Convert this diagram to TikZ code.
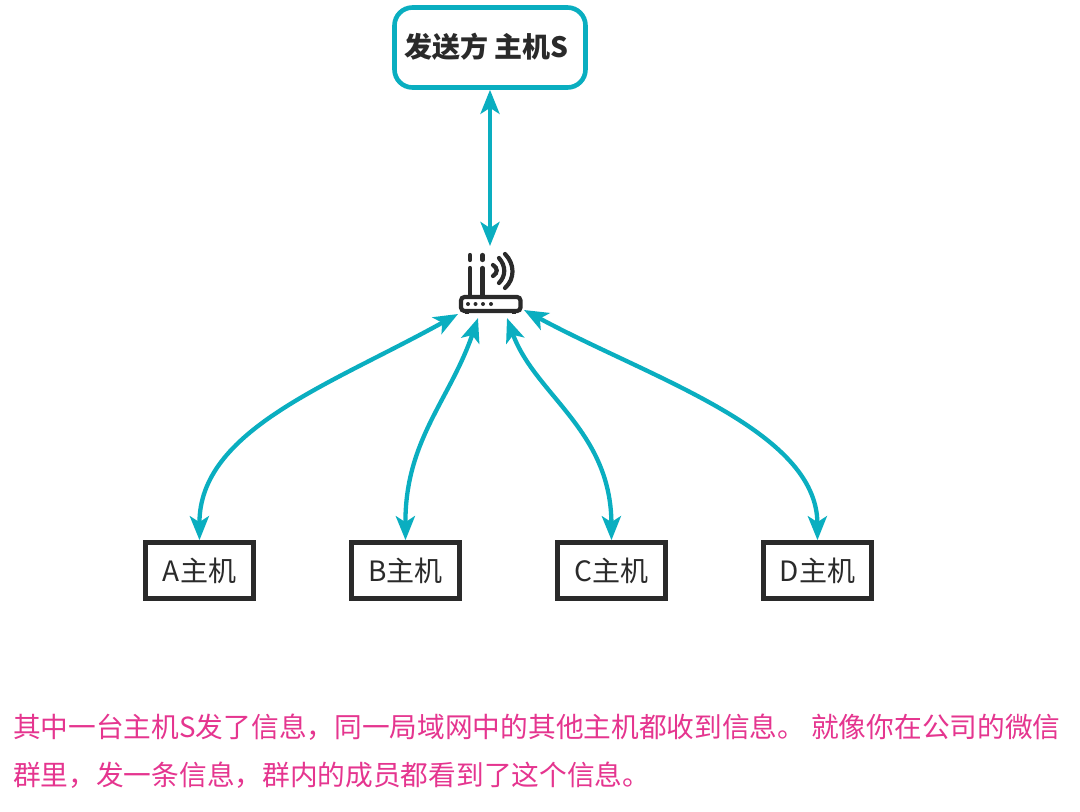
\documentclass[tikz,border=0pt]{standalone}
\usepackage{fontspec}
\setmainfont{Open Sans}
\newfontfamily\cjk{Noto Sans CJK SC}
\usetikzlibrary{arrows.meta}
\definecolor{teal1}{HTML}{0AAEC0}
\definecolor{ink}{HTML}{2A2A2A}
\definecolor{pinkt}{HTML}{E5358F}
\tikzset{
  link/.style={draw=teal1,line width=4.3pt,{Stealth[length=24pt,width=19pt,inset=6pt]}-{Stealth[length=24pt,width=19pt,inset=6pt]}},
  host/.style={draw=ink,line width=4.6pt,minimum width=108pt,minimum height=56pt,inner sep=0pt,outer sep=2.3pt,text=ink,font=\fontsize{28}{30}\selectfont\cjk},
  sender/.style={draw=teal1,line width=4.6pt,rounded corners=18pt,minimum width=191pt,minimum height=80pt,inner sep=0pt,outer sep=2.3pt},
  icon/.style={draw=ink,line width=4.2pt,line cap=round},
  note/.style={text=pinkt,anchor=west,inner sep=0pt,font=\fontsize{27.7}{30}\selectfont\cjk}
}
\begin{document}
\begin{tikzpicture}[x=1pt,y=-1pt]
\useasboundingbox (0,0) rectangle (1080,812);
\fill[white] (0,0) rectangle (1080,812);
\node[sender] (top) at (490,47.5) {};
\node[text=ink,font=\fontsize{28}{30}\selectfont\cjk\bfseries] (toplabel) at (486.5,47) {发送方 主机S};
\node[minimum width=62pt,minimum height=70pt,inner sep=0pt,outer sep=0pt] (router) at (490,281) {};
\node[host] (a) at (199.5,570.5) {A主机};
\node[host] (b) at (405.5,570.5) {B主机};
\node[host] (c) at (611.5,570.5) {C主机};
\node[host] (d) at (817.5,570.5) {D主机};
% router icon
\draw[icon] (470,255)--(470,260) (482.5,255)--(482.5,260) (470,268)--(470,297) (482.5,268)--(482.5,297);
\draw[icon] (493,265) .. controls (498,268) and (498,273) .. (493,276);
\draw[icon] (499,258) .. controls (506,266) and (506,276) .. (499,283);
\draw[icon] (505,254) .. controls (515,264) and (515,279) .. (505,288);
\draw[icon,rounded corners=3.5pt,fill=white] (461,297) rectangle (520.5,311);
\draw[ink,line width=3.2pt] (467,311)--(467,314) (514,311)--(514,314);
\foreach \p in {468,475.5,483,491} \fill[ink] (\p,304) circle (2pt);
% connector ends at the router
\coordinate (ra) at (458,314);
\coordinate (rb) at (478,318);
\coordinate (rc) at (507,318);
\coordinate (rd) at (524,310);
\draw[link] (top.south) -- (router.north);
\draw[link] (ra) .. controls (330,385) and (199,430) .. (a.north);
\draw[link] (rb) .. controls (450,400) and (405,440) .. (b.north);
\draw[link] (rc) .. controls (535,395) and (611,430) .. (c.north);
\draw[link] (rd) .. controls (650,378) and (817,430) .. (d.north);
\node[note] (l1) at (13,727) {其中一台主机S发了信息，同一局域网中的其他主机都收到信息。\hspace{6pt}就像你在公司的微信};
\node[note] (l2) at (13,775) {群里，发一条信息，群内的成员都看到了这个信息。};
\end{tikzpicture}
\end{document}
